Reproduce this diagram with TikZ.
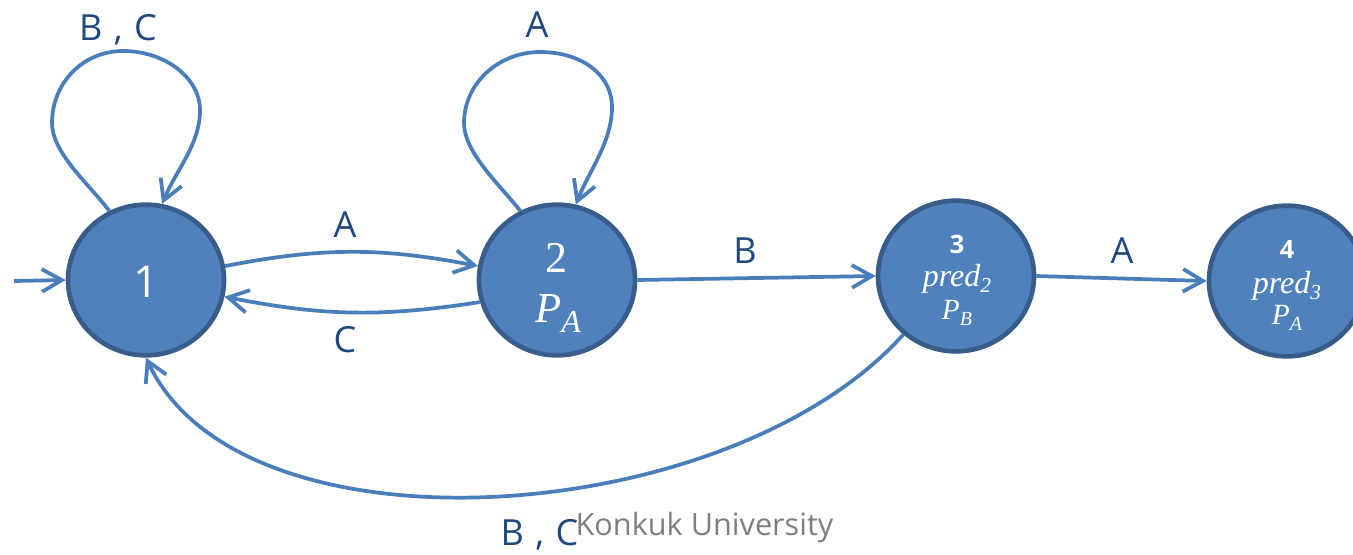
\documentclass[tikz,border=0pt]{standalone}
\usepackage{fontspec}
\setmainfont{Open Sans}
\newfontfamily\seriffont{Liberation Serif}
\usetikzlibrary{arrows.meta,shapes.geometric,calc}
\definecolor{nodefill}{HTML}{4F81BD}
\definecolor{nodeborder}{HTML}{385D8A}
\definecolor{edgecol}{HTML}{4A7EBB}
\definecolor{labcol}{HTML}{1F497D}
\definecolor{graytext}{HTML}{7F7F7F}
\begin{document}
\begin{tikzpicture}[x=0.75pt,y=-0.75pt,
  state/.style={ellipse, draw=nodeborder, fill=nodefill, line width=3.5pt,
    minimum width=117pt, minimum height=113pt, inner sep=0pt},
  edge/.style={draw=edgecol, line width=2.8pt, line join=miter,
    -{Straight Barb[length=15pt,width=17pt]}},
  lab/.style={text=labcol, font=\fontsize{27}{30}\selectfont, anchor=base, inner sep=0pt},
  intxt/.style={text=white, anchor=base, inner sep=0pt},
]
\useasboundingbox (0,0) rectangle (1353,554);

% states
\node[state] (n1) at (146,280) {};
\node[state] (n2) at (557,280) {};
\node[state] (n3) at (956,276) {};
\node[state] (n4) at (1287,281) {};

% state texts
\node[intxt, font=\fontsize{33}{33}\selectfont] (t1) at (146,297) {1};
\node[intxt, font=\seriffont\fontsize{33}{33}\selectfont] (t2a) at (556,272) {2};
\node[intxt, font=\seriffont\itshape] (t2b) at (558,322)
  {\fontsize{32}{32}\selectfont P\raisebox{-8pt}{\fontsize{24}{24}\selectfont A}};
\node[intxt, font=\bfseries\fontsize{19}{19}\selectfont] (t3a) at (957,253) {3};
\node[intxt, font=\seriffont\itshape] (t3b) at (957,286)
  {\fontsize{24}{24}\selectfont pred\raisebox{-4.5pt}{\fontsize{16}{16}\selectfont 2}};
\node[intxt, font=\seriffont\itshape] (t3c) at (957,319)
  {\fontsize{22}{22}\selectfont P\raisebox{-4.5pt}{\fontsize{15}{15}\selectfont B}};
\node[intxt, font=\bfseries\fontsize{19}{19}\selectfont] (t4a) at (1287,258) {4};
\node[intxt, font=\seriffont\itshape] (t4b) at (1287,293)
  {\fontsize{24}{24}\selectfont pred\raisebox{-4.5pt}{\fontsize{16}{16}\selectfont 3}};
\node[intxt, font=\seriffont\itshape] (t4c) at (1287,324)
  {\fontsize{22}{22}\selectfont P\raisebox{-4.5pt}{\fontsize{15}{15}\selectfont A}};

% start arrow
\coordinate (s0) at (14,281);
\draw[edge] (s0) -- (n1.west);

% self loops
\begin{scope}[shift={(n1.center)}]
  \draw[edge] (n1.118) .. controls (-57,-96) and (-94,-127) .. (-94,-157)
    .. controls (-94,-197) and (-63,-229) .. (-23,-229)
    .. controls (19,-229) and (54,-202) .. (54,-170)
    .. controls (54,-135) and (30,-110) .. (n1.78);
\end{scope}
\begin{scope}[shift={(n2.center)}]
  \draw[edge] (n2.118) .. controls (-56,-94) and (-93,-127) .. (-93,-157)
    .. controls (-93,-197) and (-58,-228) .. (-17,-228)
    .. controls (25,-228) and (55,-205) .. (55,-173)
    .. controls (55,-138) and (32,-109) .. (n2.76);
\end{scope}

% transitions
\draw[edge] (n1.10) to[bend left=11] (n2.170);
\draw[edge] (n2.196) to[bend left=10] (n1.348);
\draw[edge] (n2.east) -- (n3.west);
\draw[edge] (n3.east) -- (n4.west);
\draw[edge] (n3.228) .. controls +(-175,195) and +(95,205) .. (n1.270);

% labels
\node[lab] (l1) at (118,40) {B\hspace{0.32em},\hspace{0.32em}C};
\node[lab] (l2) at (537,37) {A};
\node[lab] (l3) at (345,237) {A};
\node[lab] (l4) at (345,352) {C};
\node[lab] (l5) at (745,263) {B};
\node[lab] (l6) at (1122,263) {A};
\node[lab] (l7) at (539.5,545) {B\hspace{0.32em},\hspace{0.32em}C};
\node[text=graytext, font=\fontsize{23}{26}\selectfont, anchor=base, inner sep=0pt] (ku) at (704.5,535) {Konkuk University};
\end{tikzpicture}
\end{document}
